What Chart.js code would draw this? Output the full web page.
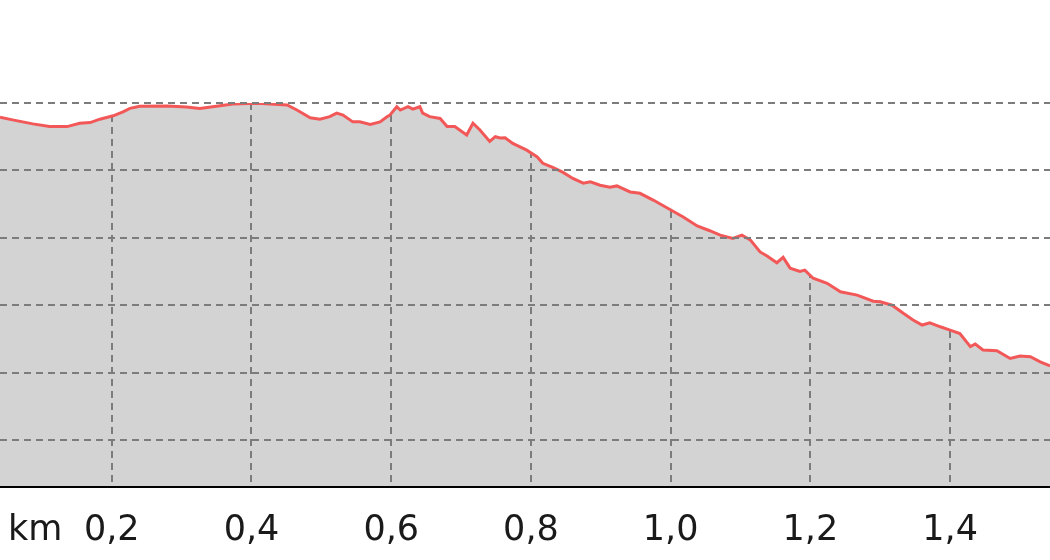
<!DOCTYPE html>
<html>
<head>
<meta charset="utf-8">
<script src="https://cdn.jsdelivr.net/npm/chart.js@4/dist/chart.umd.min.js"></script>
<style>
  html, body { margin: 0; padding: 0; background: #fff; }
</style>
</head>
<body>
<canvas id="profile" width="1050" height="560"></canvas>
<script>
// distance along the track (km)
const distKm = [
  0.040, 0.058, 0.087, 0.111, 0.136, 0.154, 0.169, 0.183, 0.202, 0.216,
  0.226, 0.240, 0.279, 0.307, 0.326, 0.355, 0.373, 0.408, 0.451, 0.465,
  0.484, 0.498, 0.512, 0.522, 0.531, 0.545, 0.555, 0.570, 0.584, 0.594,
  0.598, 0.608, 0.613, 0.624, 0.631, 0.641, 0.645, 0.655, 0.670, 0.680,
  0.691, 0.708, 0.717, 0.727, 0.741, 0.749, 0.756, 0.763, 0.774, 0.794,
  0.809, 0.817, 0.832, 0.846, 0.860, 0.875, 0.885, 0.899, 0.913, 0.923,
  0.942, 0.956, 0.975, 0.999, 1.018, 1.038, 1.056, 1.071, 1.089, 1.102,
  1.114, 1.128, 1.138, 1.152, 1.161, 1.171, 1.185, 1.192, 1.204, 1.224,
  1.243, 1.267, 1.290, 1.300, 1.317, 1.333, 1.347, 1.360, 1.371, 1.386,
  1.400, 1.414, 1.429, 1.436, 1.447, 1.467, 1.486, 1.500, 1.515, 1.529,
  1.543
];

// elevation (m)
const elevM = [
  97.9, 97.5, 96.9, 96.5, 96.5, 97.0, 97.1, 97.6, 98.1, 98.7,
  99.2, 99.5, 99.55, 99.4, 99.2, 99.6, 99.85, 99.96, 99.7, 98.96,
  97.8, 97.6, 97.97, 98.5, 98.2, 97.2, 97.2, 96.8, 97.2, 97.97,
  98.2, 99.45, 98.96, 99.45, 99.1, 99.45, 98.5, 97.97, 97.7, 96.5,
  96.5, 95.25, 97.0, 96.0, 94.3, 95.0, 94.8, 94.85, 94.0, 93.0,
  92.0, 91.05, 90.4, 89.7, 88.8, 88.1, 88.3, 87.8, 87.5, 87.7,
  86.8, 86.6, 85.6, 84.2, 83.1, 81.75, 81.05, 80.4, 79.9, 80.4,
  79.7, 77.9, 77.3, 76.3, 77.1, 75.5, 75.0, 75.2, 74.0, 73.25,
  72.0, 71.5, 70.6, 70.5, 70.0, 68.8, 67.8, 67.06, 67.4, 66.8,
  66.3, 65.8, 63.85, 64.25, 63.35, 63.25, 62.1, 62.45, 62.35, 61.6,
  61.0
];

// tick positions along the distance axis
const distTicks = [0.2, 0.4, 0.6, 0.8, 1.0, 1.2, 1.4];
const unitLabel = 'km';

const points = distKm.map((d, i) => ({ x: d, y: elevM[i] }));

const labelFont = { family: 'DejaVu Sans', size: 35 };
const labelPad = 23;
const gridDash = [7, 5];

// grey ground inside the plot, white fill above the profile hides the vertical grid there
const groundPlugin = {
  id: 'ground',
  beforeDraw(chart) {
    const a = chart.chartArea;
    const ctx = chart.ctx;
    ctx.save();
    ctx.fillStyle = '#d3d3d3';
    ctx.fillRect(a.left, a.top, a.right - a.left, a.bottom - a.top);
    ctx.restore();
  },
  afterDraw(chart) {
    // unit name on the label row, at the left edge
    const sx = chart.scales.x;
    const ctx = chart.ctx;
    ctx.save();
    ctx.font = labelFont.size + 'px "' + labelFont.family + '"';
    ctx.fillStyle = '#1a1a1a';
    ctx.textAlign = 'left';
    ctx.textBaseline = 'middle';
    ctx.fillText(unitLabel, 8, sx.top + labelPad + labelFont.size * 1.2 / 2);
    ctx.restore();
  }
};

new Chart(document.getElementById('profile'), {
  type: 'line',
  data: {
    datasets: [{
      data: points,
      borderColor: '#f25858',
      borderWidth: 3,
      backgroundColor: '#ffffff',
      fill: 'end',
      pointRadius: 0,
      tension: 0
    }]
  },
  options: {
    responsive: false,
    animation: false,
    layout: { padding: { top: 103, bottom: -15, left: 0, right: 0 } },
    plugins: { legend: { display: false }, tooltip: { enabled: false } },
    scales: {
      x: {
        type: 'linear',
        min: 0.04,
        max: 1.543,
        afterBuildTicks(scale) {
          scale.ticks = distTicks.map(v => ({ value: v }));
        },
        ticks: {
          autoSkip: false,
          maxRotation: 0,
          padding: labelPad,
          color: '#1a1a1a',
          font: labelFont,
          callback: v => v.toFixed(1).replace('.', ',')
        },
        grid: {
          color: '#7c7c7c',
          lineWidth: 2,
          drawTicks: false
        },
        border: { display: true, color: '#000', width: 2, dash: gridDash },
      },
      y: {
        min: 43.03,
        max: 100,
        ticks: { display: false, stepSize: 10, includeBounds: false },
        grid: {
          color: '#7c7c7c',
          lineWidth: 2,
          drawTicks: false,
          z: 1
        },
        border: { display: false, dash: gridDash }
      }
    }
  },
  plugins: [groundPlugin]
});
</script>
</body>
</html>
